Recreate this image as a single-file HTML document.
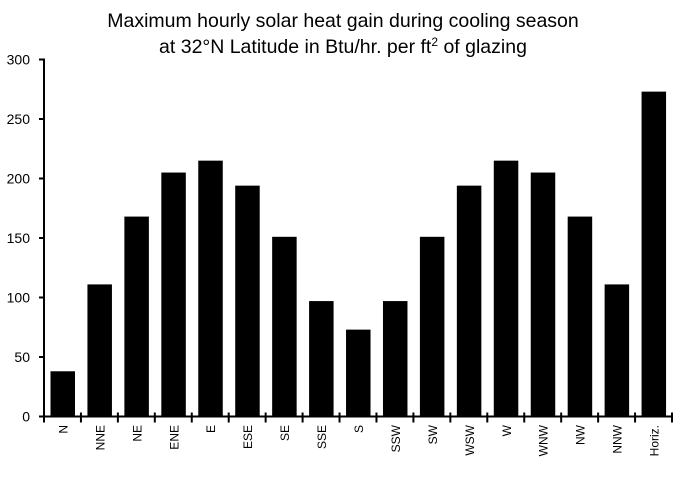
<!DOCTYPE html>
<html><head><style>body{margin:0;background:#fff}</style></head><body>
<svg width="680" height="476" xmlns="http://www.w3.org/2000/svg" font-family="Liberation Sans, sans-serif">
<rect width="680" height="476" fill="#fff"/>
<text x="343" y="27" font-size="19.5" text-anchor="middle">Maximum hourly solar heat gain during cooling season</text>
<text x="343" y="53" font-size="19.5" text-anchor="middle">at 32°N Latitude in Btu/hr. per ft<tspan font-size="12" dy="-7">2</tspan><tspan dy="7"> of glazing</tspan></text>
<g fill="#000">
<rect x="50.5" y="371.28" width="24.5" height="45.22"/>
<rect x="87.44" y="284.41" width="24.5" height="132.09"/>
<rect x="124.38" y="216.58" width="24.5" height="199.92"/>
<rect x="161.32" y="172.55" width="24.5" height="243.95"/>
<rect x="198.26" y="160.65" width="24.5" height="255.85"/>
<rect x="235.21" y="185.64" width="24.5" height="230.86"/>
<rect x="272.15" y="236.81" width="24.5" height="179.69"/>
<rect x="309.09" y="301.07" width="24.5" height="115.43"/>
<rect x="346.03" y="329.63" width="24.5" height="86.87"/>
<rect x="382.97" y="301.07" width="24.5" height="115.43"/>
<rect x="419.91" y="236.81" width="24.5" height="179.69"/>
<rect x="456.85" y="185.64" width="24.5" height="230.86"/>
<rect x="493.79" y="160.65" width="24.5" height="255.85"/>
<rect x="530.74" y="172.55" width="24.5" height="243.95"/>
<rect x="567.68" y="216.58" width="24.5" height="199.92"/>
<rect x="604.62" y="284.41" width="24.5" height="132.09"/>
<rect x="641.56" y="91.63" width="24.5" height="324.87"/>
</g>
<g font-size="12" text-anchor="end">
<text transform="translate(67.5,425) rotate(-90)">N</text>
<text transform="translate(104.4,425) rotate(-90)">NNE</text>
<text transform="translate(141.4,425) rotate(-90)">NE</text>
<text transform="translate(178.3,425) rotate(-90)">ENE</text>
<text transform="translate(215.2,425) rotate(-90)">E</text>
<text transform="translate(252.2,425) rotate(-90)">ESE</text>
<text transform="translate(289.1,425) rotate(-90)">SE</text>
<text transform="translate(326.1,425) rotate(-90)">SSE</text>
<text transform="translate(363,425) rotate(-90)">S</text>
<text transform="translate(400,425) rotate(-90)">SSW</text>
<text transform="translate(436.9,425) rotate(-90)">SW</text>
<text transform="translate(473.8,425) rotate(-90)">WSW</text>
<text transform="translate(510.8,425) rotate(-90)">W</text>
<text transform="translate(547.7,425) rotate(-90)">WNW</text>
<text transform="translate(584.6,425) rotate(-90)">NW</text>
<text transform="translate(621.6,425) rotate(-90)">NNW</text>
<text transform="translate(658.5,425) rotate(-90)">Horiz.</text>
</g>
<g stroke="#000" stroke-width="2">
<path d="M44 412.5V422.5M80.94 412.5V422.5M117.88 412.5V422.5M154.82 412.5V422.5M191.76 412.5V422.5M228.71 412.5V422.5M265.65 412.5V422.5M302.59 412.5V422.5M339.53 412.5V422.5M376.47 412.5V422.5M413.41 412.5V422.5M450.35 412.5V422.5M487.29 412.5V422.5M524.24 412.5V422.5M561.18 412.5V422.5M598.12 412.5V422.5M635.06 412.5V422.5M672 412.5V422.5"/>
<path d="M39 416.5H45M39 357H45M39 297.5H45M39 238H45M39 178.5H45M39 119H45M39 59.5H45"/>
<path d="M44 59V416.5M43 416.5H673"/>
</g>
<g font-size="14" text-anchor="end">
<text x="30" y="421.5">0</text>
<text x="30" y="362">50</text>
<text x="30" y="302.5">100</text>
<text x="30" y="243">150</text>
<text x="30" y="183.5">200</text>
<text x="30" y="124">250</text>
<text x="30" y="64.5">300</text>
</g>
</svg>
</body></html>
